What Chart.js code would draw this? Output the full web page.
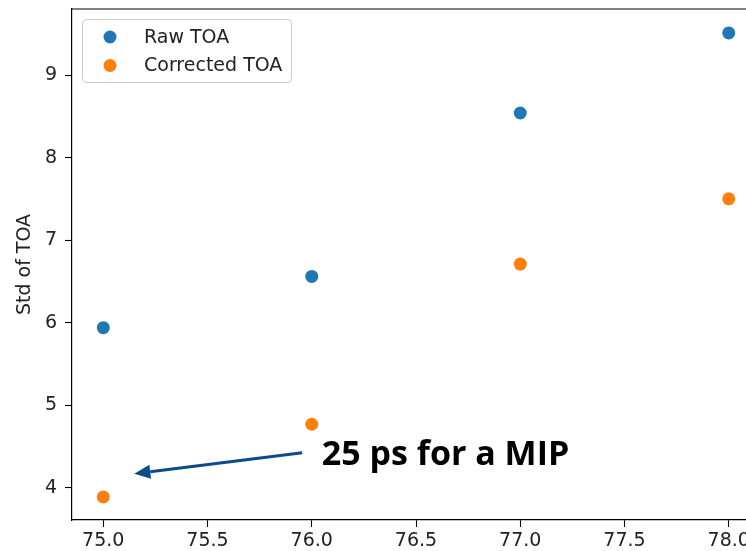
<!DOCTYPE html>
<html>
<head>
<meta charset="utf-8">
<script src="https://cdn.jsdelivr.net/npm/chart.js@4"></script>
<style>
  html, body { margin: 0; padding: 0; background: #fff; overflow: hidden; }
  #wrap { width: 780px; height: 551px; position: relative; }
</style>
</head>
<body>
<div id="wrap"><canvas id="c" width="780" height="551"></canvas></div>
<script>
// ---- data ----
const xValues = [75, 76, 77, 78];
const rawTOA = [5.94, 6.56, 8.54, 9.51];
const correctedTOA = [3.89, 4.77, 6.71, 7.50];
const seriesLabels = ['Raw TOA', 'Corrected TOA'];
const xTickValues = [75.0, 75.5, 76.0, 76.5, 77.0, 77.5, 78.0];
const yTickValues = [4, 5, 6, 7, 8, 9];
const yAxisTitle = 'Std of TOA';
const annotationText = '25 ps for a MIP';
const arrowFrom = [75.954, 4.424];
const arrowTo = [75.149, 4.17];
const textAnchor = [76.048, 4.28];

const colors = ['#1f77b4', '#ff7f0e'];

const overlay = {
  id: 'overlay',
  afterDraw(chart) {
    const ctx = chart.ctx;
    const xs = chart.scales.x, ys = chart.scales.y;
    const area = chart.chartArea;
    ctx.save();
    // top spine
    ctx.strokeStyle = '#000';
    ctx.lineWidth = 1.2;
    ctx.beginPath();
    ctx.moveTo(area.left, area.top);
    ctx.lineTo(area.right, area.top);
    ctx.stroke();

    // legend
    const lx = area.left + 10, ly = area.top + 10, lw = 209, lh = 63;
    ctx.fillStyle = 'rgba(255,255,255,0.8)';
    ctx.strokeStyle = '#cccccc';
    ctx.lineWidth = 1;
    ctx.beginPath();
    ctx.roundRect(lx + 0.5, ly + 0.5, lw, lh, 4);
    ctx.fill();
    ctx.stroke();
    ctx.font = '19px "DejaVu Sans"';
    ctx.textBaseline = 'middle';
    ctx.textAlign = 'left';
    chart.data.datasets.forEach((ds, i) => {
      const cy = ly + 18 + i * 28.5;
      ctx.fillStyle = ds.backgroundColor;
      ctx.beginPath();
      ctx.arc(lx + 28, cy, 6.5, 0, Math.PI * 2);
      ctx.fill();
      ctx.fillStyle = '#222';
      ctx.fillText(ds.label, lx + 62, cy + 1);
    });

    // arrow
    const x1 = xs.getPixelForValue(arrowFrom[0]), y1 = ys.getPixelForValue(arrowFrom[1]);
    const x2 = xs.getPixelForValue(arrowTo[0]), y2 = ys.getPixelForValue(arrowTo[1]);
    const ang = Math.atan2(y2 - y1, x2 - x1);
    const hl = 16, hw = 7;
    const bx = x2 - hl * Math.cos(ang), by = y2 - hl * Math.sin(ang);
    ctx.strokeStyle = '#0b4a8c';
    ctx.fillStyle = '#0b4a8c';
    ctx.lineWidth = 3;
    ctx.beginPath();
    ctx.moveTo(x1, y1);
    ctx.lineTo(bx, by);
    ctx.stroke();
    ctx.beginPath();
    ctx.moveTo(x2, y2);
    ctx.lineTo(bx + hw * Math.sin(ang), by - hw * Math.cos(ang));
    ctx.lineTo(bx - hw * Math.sin(ang), by + hw * Math.cos(ang));
    ctx.closePath();
    ctx.fill();

    // annotation text
    ctx.font = 'bold 34px "Open Sans"';
    ctx.fillStyle = '#000';
    ctx.textBaseline = 'alphabetic';
    ctx.fillText(annotationText, xs.getPixelForValue(textAnchor[0]), ys.getPixelForValue(textAnchor[1]));
    ctx.restore();
  }
};

new Chart(document.getElementById('c'), {
  type: 'scatter',
  data: {
    datasets: [
      { label: seriesLabels[0], data: xValues.map((x, i) => ({ x, y: rawTOA[i] })),
        backgroundColor: colors[0], borderColor: colors[0], pointRadius: 6.5, borderWidth: 0 },
      { label: seriesLabels[1], data: xValues.map((x, i) => ({ x, y: correctedTOA[i] })),
        backgroundColor: colors[1], borderColor: colors[1], pointRadius: 6.5, borderWidth: 0 }
    ]
  },
  options: {
    responsive: false,
    animation: false,
    layout: { padding: { top: 9, right: 20, left: 0, bottom: 0 } },
    plugins: { legend: { display: false }, tooltip: { enabled: false } },
    scales: {
      x: {
        type: 'linear', min: 74.85, max: 78.15,
        afterBuildTicks: s => { s.ticks = xTickValues.map(v => ({ value: v })); },
        afterFit: s => { s.height = 31; s.paddingLeft = 0; s.paddingRight = 0; },
        grid: { drawOnChartArea: false, drawTicks: true, tickLength: 7, tickColor: '#000', tickWidth: 1.1 },
        border: { color: '#000', width: 1.2 },
        ticks: { color: '#222', font: { family: 'DejaVu Sans', size: 19 }, padding: 3,
                 maxRotation: 0, autoSkip: false, callback: v => Number(v).toFixed(1) }
      },
      y: {
        type: 'linear', min: 3.61, max: 9.80,
        afterBuildTicks: s => { s.ticks = yTickValues.map(v => ({ value: v })); },
        afterFit: s => { s.width = 72; s.paddingTop = 0; s.paddingBottom = 0; },
        grid: { drawOnChartArea: false, drawTicks: true, tickLength: 7, tickColor: '#000', tickWidth: 1.1 },
        border: { color: '#000', width: 1.2 },
        title: { display: true, text: yAxisTitle, color: '#222', font: { family: 'DejaVu Sans', size: 19 }, padding: { top: 14, bottom: 4 } },
        ticks: { color: '#222', font: { family: 'DejaVu Sans', size: 19 }, padding: 8, autoSkip: false,
                 callback: v => String(v) }
      }
    }
  },
  plugins: [overlay]
});
</script>
</body>
</html>
